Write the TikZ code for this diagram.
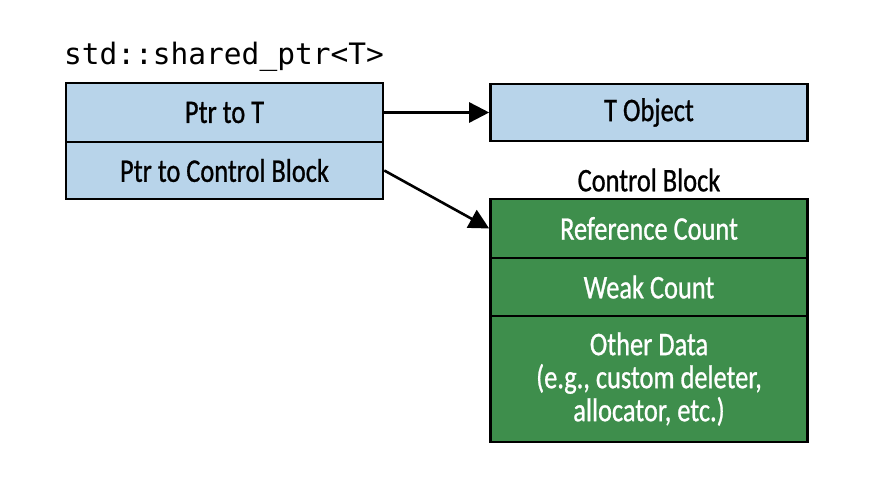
\documentclass[tikz,border=0pt]{standalone}
\usepackage{fontspec}
\setmainfont[FakeStretch=0.8, FakeBold=0.8]{Carlito}
\setmonofont{DejaVu Sans Mono}
\usetikzlibrary{arrows.meta}
\definecolor{ptrblue}{HTML}{B8D4EA}
\definecolor{blockgreen}{HTML}{3E8E4C}
\tikzset{
  cell/.style={draw=black, line width=2.6pt, minimum width=317pt, align=center,
    inner sep=0pt, font=\fontsize{33}{33}\selectfont},
  ptrcell/.style={cell, fill=ptrblue, text=black},
  cbcell/.style={cell, fill=blockgreen, text=white},
  link/.style={line width=2.6pt, -{Triangle[width=20pt, length=20pt]}}
}
\begin{document}
\begin{tikzpicture}[x=1pt, y=-1pt]
    \useasboundingbox (0,0) rectangle (892,492);

    % --- shared_ptr ---
    \node (lbl) at (224,57) {\fontsize{29.5}{33}\selectfont\ttfamily std::shared\_ptr<T>};
    \node[ptrcell, minimum height=59pt] (ptrT) at (224.5,112.5) {Ptr to T};
    \node[ptrcell, minimum height=57pt] (ptrCB) at (224.5,170.5) {Ptr to Control Block};

    % --- objeto T ---
    \node[ptrcell, minimum height=57pt] (tobj) at (649,112.5) {T Object};

    % --- control block ---
    \node[font=\fontsize{33}{33}\selectfont] (cblbl) at (649,180) {Control Block};
    \node[cbcell, minimum height=59pt] (refc) at (649,228.5) {Reference Count};
    \node[cbcell, minimum height=58pt] (weak) at (649,287) {Weak Count};
    \node[cbcell, minimum height=126pt] (other) at (649,379)
        {Other Data\\(e.g., custom deleter,\\allocator, etc.)};

    % --- punteros ---
    \draw[link] (ptrT.east) -- (tobj.west);
    \draw[link] (ptrCB.east) -- (refc.west);
\end{tikzpicture}
\end{document}
